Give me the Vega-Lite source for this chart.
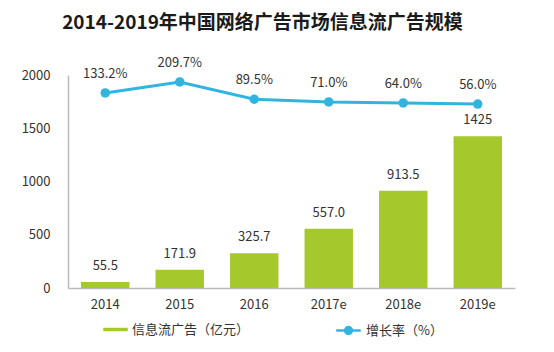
{
  "$schema": "https://vega.github.io/schema/vega-lite/v6.json",
  "width": 447,
  "height": 213,
  "autosize": {"type": "none"},
  "padding": {"left": 68, "top": 75, "right": 39, "bottom": 64},
  "background": "white",
  "config": {
    "view": {"stroke": null},
    "font": "Noto Sans CJK SC",
    "text": {"font": "Noto Sans CJK SC"}
  },
  "title": {
    "text": "2014-2019年中国网络广告市场信息流广告规模",
    "fontSize": 19,
    "fontWeight": "bold",
    "color": "#1a1a1a",
    "anchor": "middle",
    "dx": -29,
    "offset": 24,
    "font": "Noto Sans CJK SC"
  },
  "data": {
    "values": [
      {"year": "2014", "value": 55.5, "vlabel": "55.5", "rate": 133.2, "rlabel": "133.2%"},
      {"year": "2015", "value": 171.9, "vlabel": "171.9", "rate": 209.7, "rlabel": "209.7%"},
      {"year": "2016", "value": 325.7, "vlabel": "325.7", "rate": 89.5, "rlabel": "89.5%"},
      {"year": "2017e", "value": 557.0, "vlabel": "557.0", "rate": 71.0, "rlabel": "71.0%"},
      {"year": "2018e", "value": 913.5, "vlabel": "913.5", "rate": 64.0, "rlabel": "64.0%"},
      {"year": "2019e", "value": 1425, "vlabel": "1425", "rate": 56.0, "rlabel": "56.0%"}
    ]
  },
  "encoding": {
    "x": {
      "field": "year",
      "type": "ordinal",
      "sort": null,
      "scale": {"paddingInner": 0.35, "paddingOuter": 0.175},
      "axis": {
        "title": null,
        "labelAngle": 0,
        "labelFontSize": 13,
        "labelColor": "#333333",
        "labelPadding": 10,
        "ticks": false,
        "domainColor": "#bbbbbb",
        "domainWidth": 1.5,
        "labelFont": "Noto Sans CJK SC"
      }
    }
  },
  "layer": [
    {
      "layer": [
        {
          "mark": {"type": "bar", "color": "#a5c82c"},
          "encoding": {
            "y": {
              "field": "value",
              "type": "quantitative",
              "scale": {"domain": [0, 2000], "nice": false},
              "axis": {
                "title": null,
                "values": [0, 500, 1000, 1500, 2000],
                "format": "d",
                "grid": false,
                "ticks": false,
                "labelFontSize": 13,
                "labelColor": "#333333",
                "labelPadding": 18,
                "domainColor": "#bbbbbb",
                "domainWidth": 1.5,
                "labelFont": "Noto Sans CJK SC"
              }
            },
            "fill": {
              "datum": "信息流广告（亿元）",
              "type": "nominal",
              "scale": {"range": ["#a5c82c"]},
              "legend": {
                "title": null,
                "orient": "none",
                "legendX": 35,
                "legendY": 242,
                "symbolType": "M-1,-0.14H1V0.14H-1Z",
                "symbolSize": 600,
                "symbolStrokeWidth": 0,
                "labelFontSize": 13,
                "labelColor": "#333333",
                "labelFont": "Noto Sans CJK SC",
                "labelOffset": 4
              }
            }
          }
        },
        {
          "mark": {"type": "text", "baseline": "bottom", "dy": -9, "fontSize": 13, "color": "#333333"},
          "encoding": {
            "y": {"field": "value", "type": "quantitative", "scale": {"domain": [0, 2000], "nice": false}},
            "text": {"field": "vlabel"}
          }
        }
      ]
    },
    {
      "layer": [
        {
          "mark": {"type": "line", "color": "#33b4df", "strokeWidth": 3},
          "encoding": {
            "y": {"field": "rate", "type": "quantitative", "scale": {"domain": [-1221, 258], "nice": false}, "axis": null},
            "stroke": {
              "datum": "增长率（%）",
              "type": "nominal",
              "scale": {"range": ["#33b4df"]},
              "legend": {
                "title": null,
                "orient": "none",
                "legendX": 267,
                "legendY": 242,
                "symbolType": "M-1,0H1M0.28,0A0.28,0.28 0 1,1 -0.28,0A0.28,0.28 0 1,1 0.28,0Z",
                "symbolSize": 600,
                "symbolStrokeWidth": 2.5,
                "symbolFillColor": "#33b4df",
                "labelFontSize": 13,
                "labelColor": "#333333",
                "labelFont": "Noto Sans CJK SC",
                "labelOffset": 4
              }
            }
          }
        },
        {
          "mark": {"type": "point", "filled": true, "color": "#33b4df", "size": 90, "opacity": 1},
          "encoding": {
            "y": {"field": "rate", "type": "quantitative", "scale": {"domain": [-1221, 258], "nice": false}, "axis": null}
          }
        },
        {
          "mark": {"type": "text", "baseline": "bottom", "dy": -12, "fontSize": 13, "color": "#333333"},
          "encoding": {
            "y": {"field": "rate", "type": "quantitative", "scale": {"domain": [-1221, 258], "nice": false}, "axis": null},
            "text": {"field": "rlabel"}
          }
        }
      ]
    }
  ],
  "resolve": {"scale": {"y": "independent"}}
}
